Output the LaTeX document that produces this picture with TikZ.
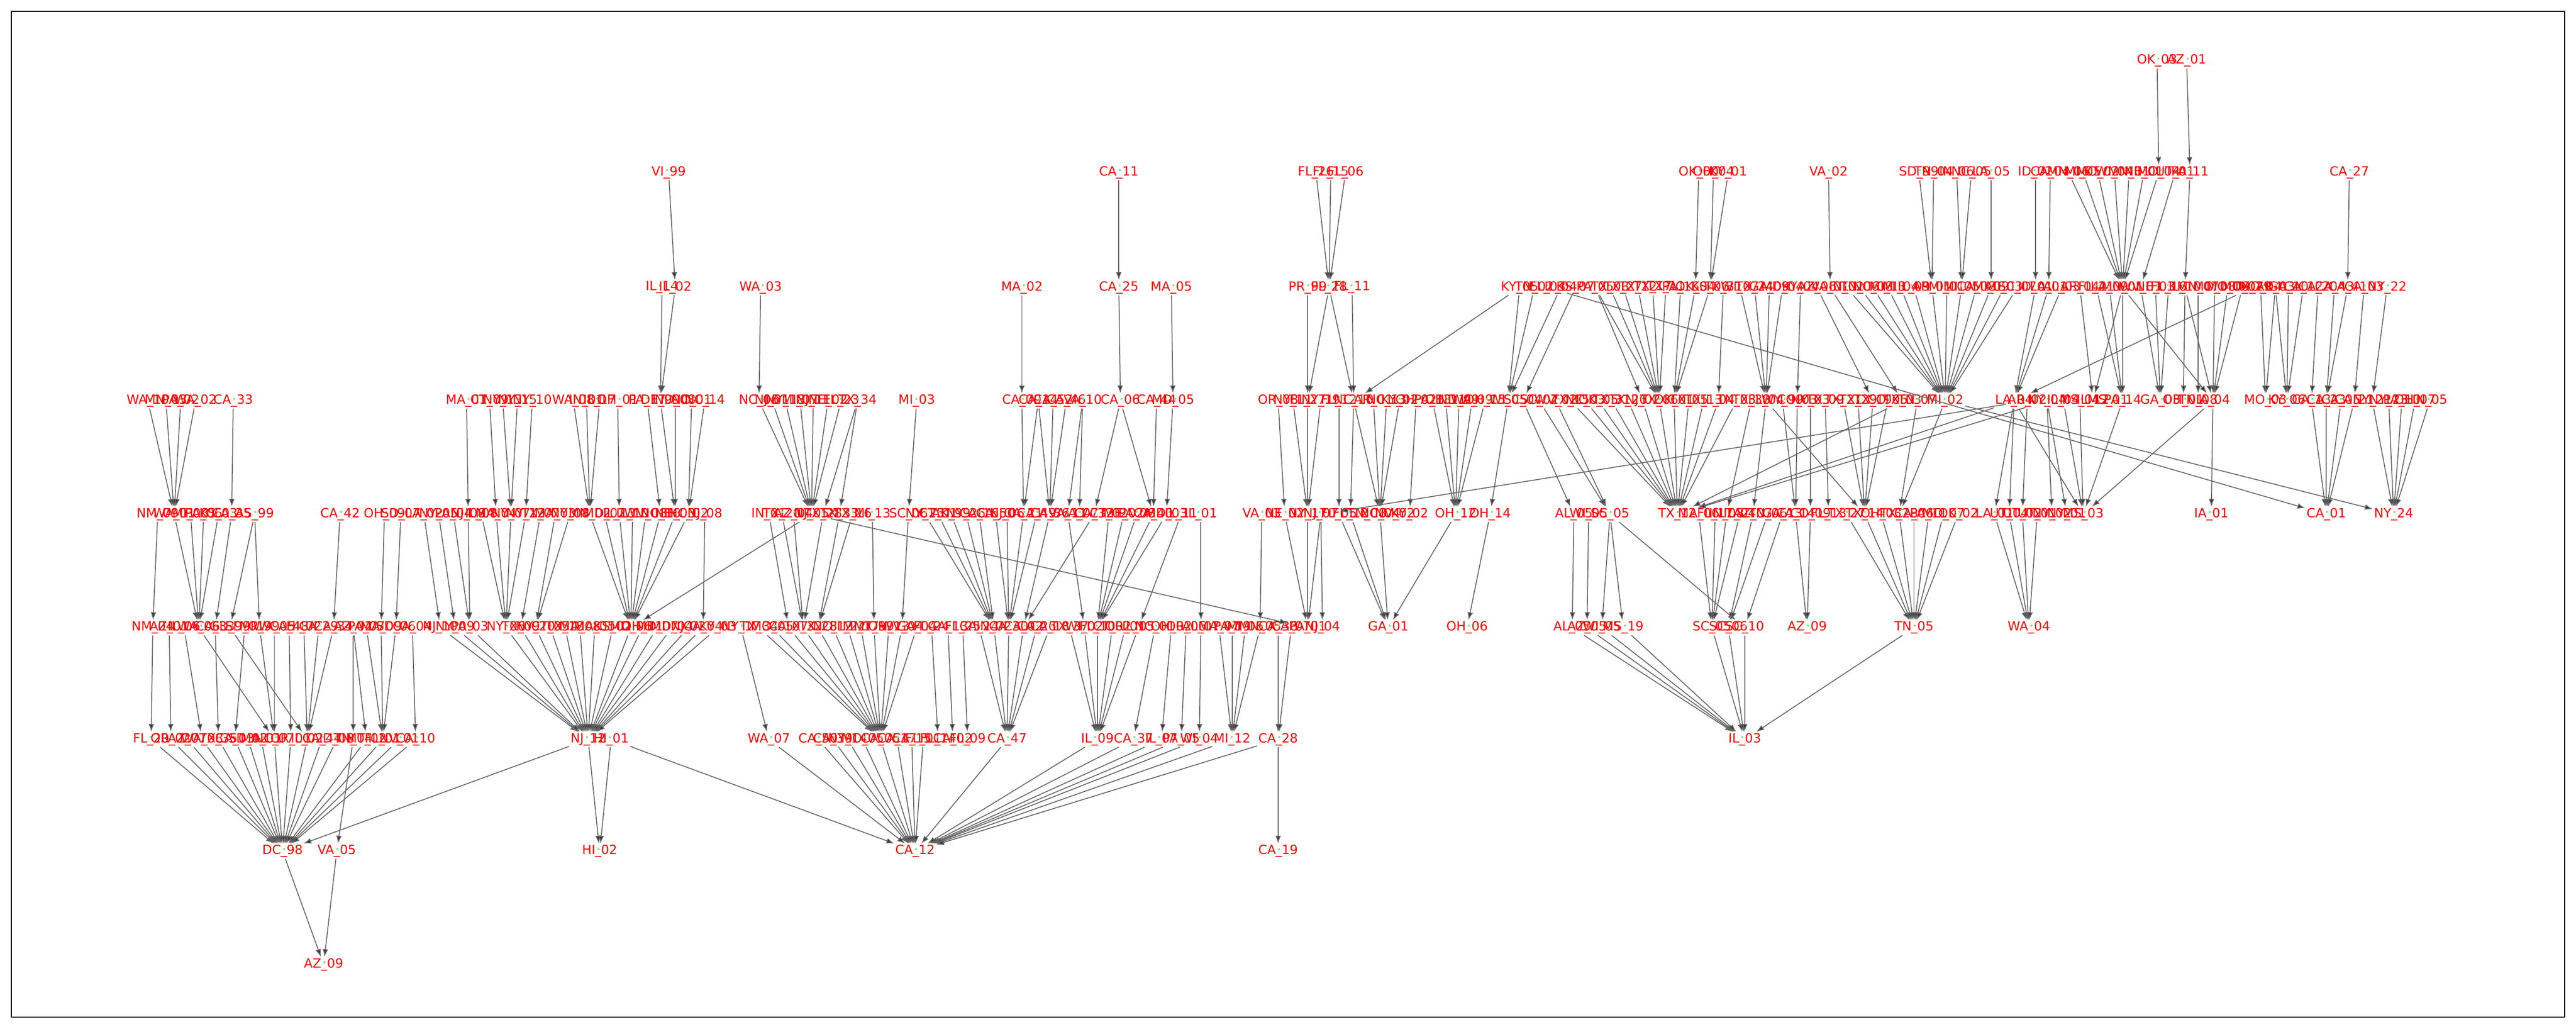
\documentclass[tikz,border=0pt]{standalone}
\usepackage{fontspec}
\usepackage{graphicx}
\usetikzlibrary{arrows.meta}
\newfontfamily\lblfont{DejaVu Sans}
\definecolor{dotgreen}{HTML}{90D890}
\newcommand{\usc}{\makebox[0.45em]{\_\llap{\raisebox{.35ex}{\makebox[0.45em]{\textcolor{dotgreen}{\scalebox{.6}{\textbullet}}}}}}}
\newcommand{\fan}[2]{\foreach \src in {#2} \draw[edge] (n\src) -- (n#1);}
\tikzset{
  lbl/.style={text=red, inner sep=0.6pt, font=\lblfont\fontsize{7}{8}\selectfont},
  edge/.style={draw=black!60, line width=0.5pt, -{Latex[length=1.5mm,width=1.1mm,fill=black!80]}}
}

\begin{document}
\begin{tikzpicture}

\begin{scope}[x=0.031824cm,y=-0.031824cm]
  \useasboundingbox (0,0) rectangle (1568,625);
  \draw[line width=0.5pt] (7,7) rectangle (1561,619);

  % row 0
  \foreach \x/\t in {1313/OK\usc 03,1331/AZ\usc 01}
    \node[lbl] (n0x\x) at (\x,37) {\t};

  % row 1
  \foreach \x/\t in {407/VI\usc 99,681/CA\usc 11,801/FL\usc 26,810/FL\usc 15,819/FL\usc 06,
    1034/OK\usc 00,1043/OH\usc 04,1052/KY\usc 01,1113/VA\usc 02,1168/SD\usc 99,1177/TN\usc 04,
    1191/IN\usc 06,1200/NC\usc 05,1212/LA\usc 05,1239/ID\usc 02,1248/CA\usc 04,1259/MN\usc 06,
    1268/MI\usc 05,1277/MO\usc 02,1287/WI\usc 04,1296/MN\usc 01,1305/NE\usc 01,1314/MO\usc 04,
    1324/UT\usc 01,1333/PA\usc 11,1430/CA\usc 27}
    \node[lbl] (n1x\x) at (\x,105) {\t};

  % row 2
  \foreach \x/\t in {403/IL\usc 14,411/IL\usc 02,463/WA\usc 03,622/MA\usc 02,681/CA\usc 25,
    713/MA\usc 05,796/PR\usc 99,809/FL\usc 28,823/FL\usc 11,925/KY\usc 05,934/TN\usc 02,
    942/FL\usc 03,950/IL\usc 04,959/KS\usc 07,971/PA\usc 05,980/TX\usc 08,988/TX\usc 27,
    997/TX\usc 12,1006/TX\usc 17,1014/TX\usc 11,1023/PA\usc 16,1032/OK\usc 04,1041/KS\usc 06,
    1049/TX\usc 31,1059/WI\usc 07,1068/TX\usc 24,1077/GA\usc 09,1085/MD\usc 04,1096/KY\usc 04,
    1106/AZ\usc 06,1114/VA\usc 01,1124/IN\usc 02,1132/TN\usc 06,1140/NC\usc 08,1149/MI\usc 13,
    1157/MI\usc 04,1165/IL\usc 09,1176/AR\usc 01,1185/MI\usc 01,1194/MI\usc 05,1203/CA\usc 08,
    1212/MI\usc 09,1220/MI\usc 03,1228/SC\usc 07,1239/ID\usc 01,1247/LA\usc 01,1255/AL\usc 03,
    1266/AR\usc 04,1276/FL\usc 21,1284/LA\usc 09,1292/MN\usc 01,1303/WV\usc 01,1312/NE\usc 03,
    1320/FL\usc 16,1330/IL\usc 10,1338/MN\usc 07,1348/MO\usc 08,1356/MO\usc 06,1365/MO\usc 07,
    1371/TX\usc 29,1376/MO\usc 04,1385/AR\usc 03,1393/GA\usc 10,1402/CA\usc 12,1411/CA\usc 20,
    1421/CA\usc 43,1429/CA\usc 41,1439/CA\usc 03,1453/NY\usc 22}
    \node[lbl] (n2x\x) at (\x,175) {\t};

  % row 3
  \foreach \x/\t in {90/WA\usc 10,101/MN\usc 03,110/PA\usc 02,119/WA\usc 02,142/CA\usc 33,
    284/MA\usc 01,298/CT\usc 09,306/NY\usc 13,315/NY\usc 15,324/NY\usc 10,349/WA\usc 08,
    357/IN\usc 01,365/IL\usc 17,376/OH\usc 01,394/PA\usc 17,402/DE\usc 99,411/ND\usc 08,
    421/NC\usc 01,429/NC\usc 14,462/NC\usc 06,470/NJ\usc 01,478/NY\usc 18,487/MI\usc 07,
    495/NJ\usc 11,504/NE\usc 02,512/FL\usc 23,522/TX\usc 34,558/MI\usc 03,622/CA\usc 09,
    632/CA\usc 14,641/CA\usc 52,649/CA\usc 46,659/VA\usc 10,682/CA\usc 06,704/CA\usc 44,
    714/MD\usc 05,778/OR\usc 08,787/NY\usc 11,796/FL\usc 27,804/NY\usc 19,815/FL\usc 12,
    824/NC\usc 10,836/AR\usc 01,844/NC\usc 13,852/KY\usc 02,862/OH\usc 02,872/PA\usc 13,
    880/OH\usc 11,888/ND\usc 99,896/WA\usc 09,904/OH\usc 15,918/WI\usc 05,927/SC\usc 04,
    937/SC\usc 02,947/WV\usc 02,956/TX\usc 15,965/NC\usc 03,973/OK\usc 05,981/TX\usc 31,
    991/TX\usc 26,1000/NJ\usc 02,1010/TX\usc 06,1019/OK\usc 01,1028/TX\usc 05,1037/TX\usc 13,
    1046/IL\usc 04,1057/TN\usc 03,1066/TX\usc 38,1075/FL\usc 04,1085/WY\usc 99,1094/CO\usc 03,
    1102/NY\usc 03,1111/TX\usc 09,1122/TX\usc 21,1131/TX\usc 29,1140/TX\usc 19,1149/CO\usc 05,
    1158/TX\usc 03,1167/TN\usc 07,1184/MI\usc 02,1226/LA\usc 04,1234/AR\usc 02,1246/NY\usc 04,
    1256/IL\usc 04,1266/MS\usc 04,1274/IL\usc 12,1283/MS\usc 01,1292/PA\usc 14,1315/GA\usc 03,
    1329/OH\usc 01,1338/TN\usc 08,1347/IA\usc 04,1379/MO\usc 03,1392/KY\usc 06,1407/CA\usc 13,
    1416/CA\usc 23,1425/CA\usc 05,1433/CA\usc 21,1444/NY\usc 21,1454/NY\usc 23,1462/PA\usc 10,
    1470/OH\usc 07,1479/IN\usc 05}
    \node[lbl] (n3x\x) at (\x,244) {\t};

  % row 4
  \foreach \x/\t in {96/NM\usc 09,106/WA\usc 01,116/MI\usc 08,124/PA\usc 06,133/KS\usc 03,
    141/CA\usc 35,155/AS\usc 99,207/CA\usc 42,234/OH\usc 09,244/SD\usc 07,258/LA\usc 02,
    267/NY\usc 05,276/PA\usc 04,285/NJ\usc 08,293/IL\usc 08,302/MA\usc 04,311/NY\usc 07,
    320/NY\usc 12,329/TX\usc 07,338/MA\usc 03,347/NY\usc 08,359/MN\usc 02,368/MD\usc 02,
    377/IL\usc 13,385/IL\usc 10,393/WV\usc 08,402/NC\usc 16,411/NH\usc 03,419/NC\usc 02,
    429/NJ\usc 08,468/IN\usc 01,476/TX\usc 20,483/AZ\usc 04,494/NJ\usc 05,501/TX\usc 28,
    511/TX\usc 33,519/TX\usc 16,531/MI\usc 13,553/SC\usc 06,563/NY\usc 25,571/CT\usc 01,
    579/AK\usc 99,588/NY\usc 26,596/CA\usc 16,606/CA\usc 50,613/NJ\usc 06,623/CA\usc 21,
    631/CA\usc 49,639/CA\usc 36,650/VA\usc 11,657/VA\usc 07,666/CA\usc 32,675/CT\usc 02,
    684/ME\usc 02,692/PA\usc 08,702/CA\usc 40,710/MD\usc 03,719/IL\usc 11,731/IL\usc 01,
    768/VA\usc 03,782/NE\usc 02,796/NY\usc 17,804/NJ\usc 07,815/FL\usc 05,822/FL\usc 12,
    832/TN\usc 08,840/NC\usc 04,849/NV\usc 02,858/KY\usc 02,886/OH\usc 12,907/OH\usc 14,
    958/AL\usc 05,967/WI\usc 05,980/SC\usc 05,1021/TX\usc 12,1034/MA\usc 06,1044/FL\usc 17,
    1051/IN\usc 08,1059/IL\usc 04,1067/AZ\usc 07,1076/TN\usc 06,1085/GA\usc 13,1093/CA\usc 14,
    1102/CO\usc 09,1113/FL\usc 13,1124/TX\usc 27,1135/TX\usc 14,1145/OH\usc 03,1156/TX\usc 23,
    1165/CA\usc 06,1174/PA\usc 11,1183/MO\usc 07,1192/OK\usc 02,1214/LA\usc 01,1223/UT\usc 04,
    1231/UT\usc 02,1240/UT\usc 01,1249/NY\usc 02,1258/NY\usc 01,1268/MS\usc 03,1346/IA\usc 01,
    1416/CA\usc 01,1457/NY\usc 24}
    \node[lbl] (n4x\x) at (\x,313) {\t};

  % row 5
  \foreach \x/\t in {93/NM\usc 04,103/AZ\usc 01,112/IL\usc 06,121/WA\usc 06,131/CA\usc 33,
    140/GU\usc 99,149/SD\usc 01,158/MP\usc 99,167/WA\usc 05,176/CA\usc 48,185/HI\usc 02,
    194/CA\usc 29,203/CA\usc 34,215/AZ\usc 02,223/PA\usc 07,232/MA\usc 09,241/SD\usc 06,
    251/CA\usc 04,268/NJ\usc 10,277/NY\usc 09,286/PA\usc 03,308/NY\usc 06,317/TX\usc 09,
    326/NY\usc 20,335/CT\usc 05,344/TX\usc 18,353/MA\usc 08,362/MA\usc 05,373/KS\usc 02,
    384/MD\usc 06,391/OH\usc 11,400/MD\usc 07,409/MD\usc 04,419/NJ\usc 02,428/CA\usc 04,
    437/KY\usc 03,451/NY\usc 17,462/TX\usc 34,470/MO\usc 05,480/CA\usc 07,489/TX\usc 32,
    498/TX\usc 28,507/NC\usc 12,516/FL\usc 22,524/MI\usc 17,532/MT\usc 99,541/OH\usc 13,
    549/WV\usc 04,558/GA\usc 04,567/FL\usc 24,577/GA\usc 13,586/FL\usc 25,596/CA\usc 24,
    605/IN\usc 02,614/CA\usc 30,623/CA\usc 02,631/CA\usc 26,639/CA\usc 18,651/TX\usc 37,
    660/WI\usc 02,668/FL\usc 10,677/CT\usc 02,685/OR\usc 01,693/IL\usc 05,703/NC\usc 01,
    713/OH\usc 02,722/OR\usc 06,731/AL\usc 07,742/MA\usc 07,750/PA\usc 19,758/MI\usc 06,
    767/MN\usc 05,778/CA\usc 36,786/CA\usc 07,796/PA\usc 01,805/NJ\usc 04,845/GA\usc 01,
    893/OH\usc 06,957/AL\usc 05,966/AZ\usc 05,975/WI\usc 05,988/MS\usc 19,1042/SC\usc 05,
    1052/SC\usc 06,1062/SC\usc 10,1100/AZ\usc 09,1165/TN\usc 05,1235/WA\usc 04}
    \node[lbl] (n5x\x) at (\x,382) {\t};

  % row 6
  \foreach \x/\t in {92/FL\usc 20,104/OR\usc 02,114/AZ\usc 07,123/WA\usc 08,133/TX\usc 35,
    143/CA\usc 03,151/SD\usc 02,159/MA\usc 01,167/NC\usc 07,177/OR\usc 01,187/IL\usc 02,
    196/CA\usc 44,205/ID\usc 08,215/TN\usc 04,223/MT\usc 02,233/FL\usc 01,243/NV\usc 01,
    253/CA\usc 10,358/NJ\usc 12,372/HI\usc 01,468/WA\usc 07,498/CA\usc 50,507/CA\usc 39,
    516/NY\usc 14,525/MO\usc 05,536/CA\usc 05,546/CA\usc 17,555/CA\usc 15,562/FL\usc 01,
    571/FL\usc 14,580/CA\usc 02,589/FL\usc 09,613/CA\usc 47,668/IL\usc 09,690/CA\usc 37,
    707/IL\usc 07,719/PA\usc 05,730/WI\usc 04,750/MI\usc 12,778/CA\usc 28,1062/IL\usc 03}
    \node[lbl] (n6x\x) at (\x,450) {\t};

  % rows 7 and 8
  \foreach \x/\t in {172/DC\usc 98,205/VA\usc 05,365/HI\usc 02,557/CA\usc 12,778/CA\usc 19}
    \node[lbl] (n7x\x) at (\x,518) {\t};
  \node[lbl] (n8x197) at (197,587) {AZ\usc 09};

  % row 0 -> 1 -> 2
  \fan{1x1314}{0x1313} \fan{1x1333}{0x1331}
  \fan{2x411}{1x407} \fan{2x681}{1x681} \fan{2x809}{1x801,1x810,1x819}
  \fan{2x1032}{1x1034} \fan{2x1041}{1x1043,1x1052} \fan{2x1114}{1x1113}
  \fan{2x1176}{1x1168,1x1177} \fan{2x1194}{1x1191,1x1200} \fan{2x1212}{1x1212}
  \fan{2x1239}{1x1239} \fan{2x1247}{1x1248}
  \fan{2x1292}{1x1259,1x1268,1x1277,1x1287,1x1296,1x1305,1x1314}
  \fan{2x1303}{1x1324} \fan{2x1330}{1x1333} \fan{2x1429}{1x1430}

  % row 2 -> 3
  \fan{3x402}{2x403,2x411} \fan{3x462}{2x463} \fan{3x622}{2x622} \fan{3x682}{2x681}
  \fan{3x714}{2x713} \fan{3x796}{2x796,2x809} \fan{3x824}{2x809,2x823,2x925}
  \fan{3x918}{2x925,2x934,2x950} \fan{3x927}{2x959} \fan{3x1000}{2x971}
  \fan{3x1010}{2x971,2x980,2x988,2x997,2x1006,2x1014}
  \fan{3x1019}{2x1023,2x1032,2x1041} \fan{3x1046}{2x1049}
  \fan{3x1075}{2x1059,2x1068,2x1077,2x1085} \fan{3x1094}{2x1096}
  \fan{3x1140}{2x1106} \fan{3x1158}{2x1114}
  \fan{3x1184}{2x1124,2x1132,2x1140,2x1149,2x1157,2x1165,2x1176,2x1185,2x1194,2x1203,2x1212,2x1220,2x1228}
  \fan{3x1226}{2x1239,2x1247,2x1255,2x1371} \fan{3x1274}{2x1266,2x1292}
  \fan{3x1292}{2x1276,2x1284,2x1292} \fan{3x1315}{2x1303,2x1312,2x1320}
  \fan{3x1329}{2x1330} \fan{3x1338}{2x1338} \fan{3x1347}{2x1292,2x1330,2x1348,2x1356,2x1365}
  \fan{3x1379}{2x1376,2x1385} \fan{3x1392}{2x1385,2x1393,2x1402} \fan{3x1407}{2x1411}
  \fan{3x1416}{2x1421,2x1429} \fan{3x1433}{2x1439} \fan{3x1444}{2x1453}
  \fan{4x1416}{2x942}

  % row 3 -> 4
  \fan{4x106}{3x90,3x101,3x110,3x119} \fan{4x141}{3x142} \fan{4x285}{3x284}
  \fan{4x302}{3x298} \fan{4x311}{3x306,3x315} \fan{4x320}{3x324}
  \fan{4x359}{3x349,3x357,3x365} \fan{4x377}{3x376} \fan{4x402}{3x394}
  \fan{4x411}{3x402,3x411} \fan{4x419}{3x421,3x429}
  \fan{4x494}{3x462,3x470,3x478,3x487,3x495,3x504,3x512} \fan{4x501}{3x522} \fan{4x511}{3x522}
  \fan{4x553}{3x558} \fan{4x623}{3x622,3x632} \fan{4x639}{3x632,3x641,3x649}
  \fan{4x650}{3x659} \fan{4x657}{3x659} \fan{4x666}{3x682} \fan{4x702}{3x682,3x704}
  \fan{4x710}{3x714} \fan{4x782}{3x778} \fan{4x796}{3x787,3x796,3x804}
  \fan{4x815}{3x815} \fan{4x822}{3x824} \fan{4x840}{3x824,3x836,3x844,3x852}
  \fan{4x858}{3x862} \fan{4x886}{3x872,3x880,3x888,3x896,3x904} \fan{4x907}{3x918}
  \fan{4x958}{3x927} \fan{4x980}{3x937,3x947}
  \fan{4x1021}{3x956,3x965,3x973,3x981,3x991,3x1000,3x1010,3x1019,3x1028,3x1037,3x1046,3x1057,3x1158,3x1226,3x1246}
  \fan{4x1051}{3x1066} \fan{4x1067}{3x1075} \fan{4x1093}{3x1085,3x1094}
  \fan{4x1102}{3x1102} \fan{4x1113}{3x1111}
  \fan{4x1135}{3x1075,3x1122,3x1131,3x1140,3x1149} \fan{4x1156}{3x1167,3x1184}
  \fan{4x1214}{3x1226} \fan{4x1223}{3x1226} \fan{4x1231}{3x1234} \fan{4x804}{3x1234}
  \fan{4x1249}{3x1246} \fan{4x1258}{3x1246}
  \fan{4x1268}{3x1226,3x1256,3x1266,3x1292,3x1347} \fan{4x1346}{3x1347}
  \fan{4x1416}{3x1407,3x1416,3x1425,3x1433}
  \fan{4x1457}{3x1184,3x1444,3x1454,3x1462,3x1470,3x1479}

  % row 4 -> 5
  \fan{5x93}{4x96} \fan{5x121}{4x106,4x116,4x124,4x133} \fan{5x131}{4x141}
  \fan{5x140}{4x155} \fan{5x158}{4x155} \fan{5x203}{4x207} \fan{5x232}{4x234}
  \fan{5x241}{4x244} \fan{5x268}{4x258} \fan{5x277}{4x267} \fan{5x286}{4x276,4x285}
  \fan{5x308}{4x293,4x302,4x311,4x320} \fan{5x317}{4x329} \fan{5x326}{4x338,4x347}
  \fan{5x384}{4x359,4x368,4x377,4x385,4x393,4x402,4x411,4x419,4x494} \fan{5x428}{4x429}
  \fan{5x480}{4x468} \fan{5x489}{4x476,4x483,4x501} \fan{5x498}{4x511,4x519}
  \fan{5x532}{4x531} \fan{5x549}{4x553} \fan{5x605}{4x563,4x571,4x579,4x588,4x596}
  \fan{5x614}{4x606,4x613,4x623,4x631} \fan{5x623}{4x639,4x666} \fan{5x660}{4x650}
  \fan{5x668}{4x675,4x684,4x692,4x702,4x710} \fan{5x693}{4x719} \fan{5x731}{4x731}
  \fan{5x767}{4x768} \fan{5x796}{4x494,4x782,4x796,4x804} \fan{5x805}{4x804}
  \fan{5x845}{4x815,4x822,4x840,4x886} \fan{5x893}{4x907}
  \fan{5x957}{4x958} \fan{5x966}{4x967} \fan{5x975}{4x980} \fan{5x988}{4x980} \fan{5x1062}{4x980,4x1085}
  \fan{5x1042}{4x1034,4x1044,4x1051,4x1059} \fan{5x1052}{4x1067,4x1076}
  \fan{5x1100}{4x1093,4x1102}
  \fan{5x1165}{4x1124,4x1135,4x1145,4x1156,4x1165,4x1174,4x1183,4x1192}
  \fan{5x1235}{4x1214,4x1223,4x1231,4x1240}

  % row 5 -> 6
  \fan{6x92}{5x93} \fan{6x104}{5x103} \fan{6x123}{5x112} \fan{6x167}{5x121,5x158,5x167}
  \fan{6x133}{5x131} \fan{6x187}{5x140,5x185,5x194,5x203} \fan{6x143}{5x149}
  \fan{6x177}{5x176} \fan{6x215}{5x215} \fan{6x223}{5x215} \fan{6x233}{5x223,5x232,5x241}
  \fan{6x253}{5x251}
  \fan{6x358}{5x268,5x277,5x286,5x308,5x317,5x326,5x335,5x344,5x353,5x362,5x373,5x384,5x391,5x400,5x409,5x419,5x428,5x437}
  \fan{6x468}{5x451}
  \fan{6x536}{5x462,5x470,5x480,5x489,5x498,5x507,5x516,5x524,5x532,5x541,5x549,5x558}
  \fan{6x571}{5x567} \fan{6x580}{5x577} \fan{6x589}{5x586}
  \fan{6x613}{5x596,5x605,5x614,5x623,5x631,5x639}
  \fan{6x668}{5x651,5x660,5x668,5x677,5x685,5x693}
  \fan{6x690}{5x703} \fan{6x707}{5x713} \fan{6x719}{5x722} \fan{6x730}{5x731}
  \fan{6x750}{5x742,5x750,5x758,5x767} \fan{6x778}{5x778,5x786}
  \fan{6x1062}{5x957,5x966,5x975,5x988,5x1042,5x1052,5x1062,5x1165}

  % row 6 -> 7 -> 8
  \fan{7x172}{6x92,6x104,6x114,6x123,6x133,6x143,6x151,6x159,6x167,6x177,6x187,6x196,6x205,6x223,6x233,6x243,6x253,6x358}
  \fan{7x205}{6x215} \fan{7x365}{6x358,6x372}
  \fan{7x557}{6x372,6x468,6x498,6x507,6x516,6x525,6x536,6x546,6x555,6x562,6x613,6x668,6x690,6x707,6x719,6x730,6x750,6x778}
  \fan{7x778}{6x778}
  \fan{8x197}{7x172,7x205}
\end{scope}

\end{tikzpicture}
\end{document}
